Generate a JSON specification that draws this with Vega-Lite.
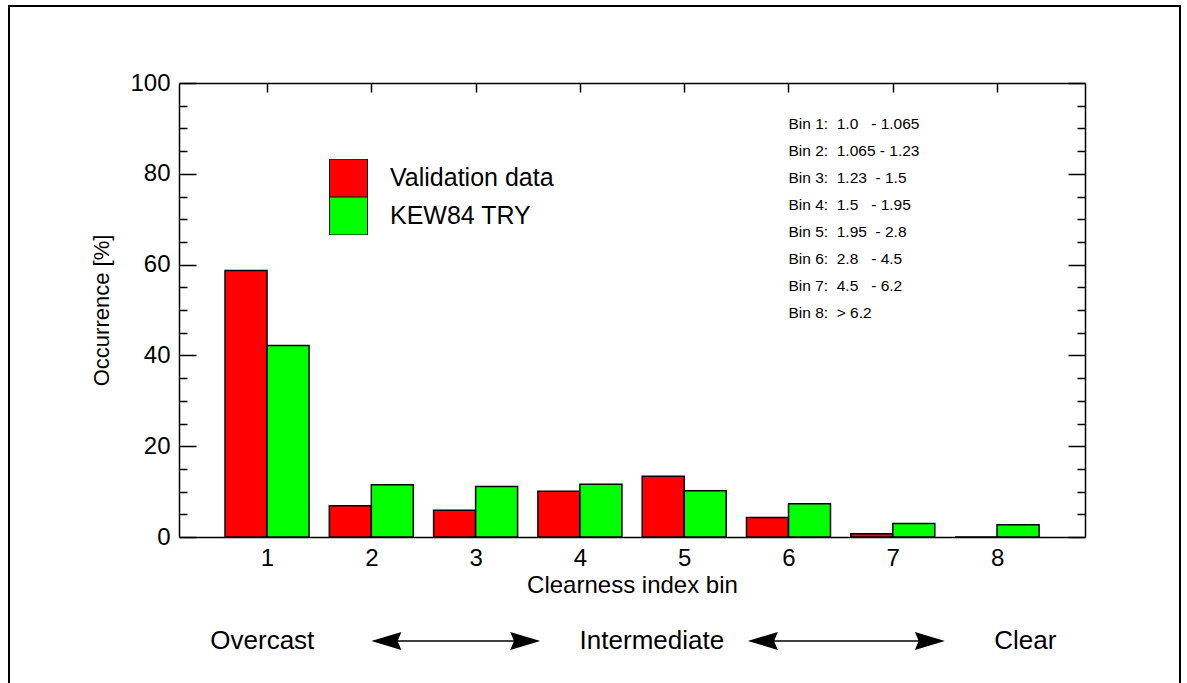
{
  "$schema": "https://vega.github.io/schema/vega-lite/v6.json",
  "width": 906,
  "height": 454,
  "autosize": {"type": "none"},
  "padding": {"left": 179, "top": 83, "right": 102, "bottom": 146},
  "background": "white",
  "config": {
    "view": {"stroke": null},
    "font": "Liberation Sans",
    "axis": {
      "grid": false,
      "domainColor": "black",
      "domainWidth": 1.5,
      "tickColor": "black",
      "tickWidth": 1.5,
      "labelColor": "black",
      "titleColor": "black",
      "labelFont": "Liberation Sans",
      "titleFont": "Liberation Sans",
      "titleFontWeight": "normal"
    },
    "legend": {
      "labelFont": "Liberation Sans"
    }
  },
  "data": {
    "values": [
      {"bin": 1, "series": "Validation data", "occ": 58.7},
      {"bin": 2, "series": "Validation data", "occ": 6.9},
      {"bin": 3, "series": "Validation data", "occ": 5.9},
      {"bin": 4, "series": "Validation data", "occ": 10.1},
      {"bin": 5, "series": "Validation data", "occ": 13.4},
      {"bin": 6, "series": "Validation data", "occ": 4.3},
      {"bin": 7, "series": "Validation data", "occ": 0.7},
      {"bin": 8, "series": "Validation data", "occ": 0.0},
      {"bin": 1, "series": "KEW84 TRY", "occ": 42.2},
      {"bin": 2, "series": "KEW84 TRY", "occ": 11.5},
      {"bin": 3, "series": "KEW84 TRY", "occ": 11.1},
      {"bin": 4, "series": "KEW84 TRY", "occ": 11.6},
      {"bin": 5, "series": "KEW84 TRY", "occ": 10.2},
      {"bin": 6, "series": "KEW84 TRY", "occ": 7.3},
      {"bin": 7, "series": "KEW84 TRY", "occ": 3.0},
      {"bin": 8, "series": "KEW84 TRY", "occ": 2.7}
    ]
  },
  "layer": [
    {
      "data": {"values": [{"item": "frame"}]},
      "mark": {"type": "rect", "filled": false, "stroke": "black", "strokeWidth": 2},
      "encoding": {
        "x": {"datum": -1.474, "type": "quantitative", "axis": null},
        "x2": {"datum": 9.754},
        "y": {"datum": 116.96, "type": "quantitative", "axis": null},
        "y2": {"datum": -33.7}
      }
    },
    {
      "transform": [{"filter": "datum.series === 'Validation data'"}],
      "mark": {"type": "bar", "orient": "vertical", "width": 42, "xOffset": -21, "stroke": "black", "strokeWidth": 1.5},
      "encoding": {
        "x": {
          "field": "bin", "type": "quantitative",
          "scale": {"domain": [0.156, 8.843], "nice": false, "zero": false, "padding": 0},
          "axis": {
            "orient": "bottom", "values": [1, 2, 3, 4, 5, 6, 7, 8], "format": "d",
            "tickSize": -9, "labelFontSize": 24, "labelPadding": 18,
            "title": "Clearness index bin", "titleFontSize": 24, "titlePadding": 3
          }
        },
        "y": {
          "field": "occ", "type": "quantitative",
          "scale": {"domain": [0, 100], "nice": false, "padding": 0},
          "axis": {
            "orient": "left",
            "values": [0, 5, 10, 15, 20, 25, 30, 35, 40, 45, 50, 55, 60, 65, 70, 75, 80, 85, 90, 95, 100],
            "tickSize": {"condition": {"test": "datum.value % 20 === 0", "value": -17}, "value": -8},
            "labelExpr": "datum.value % 20 === 0 ? datum.label : ''",
            "labelFontSize": 24, "labelPadding": 26,
            "title": "Occurrence [%]", "titleFontSize": 22, "titlePadding": 16
          }
        },
        "color": {
          "field": "series", "type": "nominal",
          "scale": {"domain": ["Validation data", "KEW84 TRY"], "range": ["#ff0000", "#00ff00"]},
          "legend": {
            "orient": "none", "legendX": 150, "legendY": 76, "title": null, "padding": 0,
            "symbolType": "square", "symbolSize": 1444, "symbolStrokeColor": "black", "symbolStrokeWidth": 1,
            "symbolOpacity": 1, "rowPadding": 0, "clipHeight": 38, "labelFontSize": 25, "labelOffset": 22,
            "labelLimit": 400, "labelColor": "black"
          }
        }
      }
    },
    {
      "transform": [{"filter": "datum.series === 'KEW84 TRY'"}],
      "mark": {"type": "bar", "orient": "vertical", "width": 42, "xOffset": 21, "stroke": "black", "strokeWidth": 1.5},
      "encoding": {
        "x": {
          "field": "bin", "type": "quantitative",
          "axis": {"orient": "top", "values": [1, 2, 3, 4, 5, 6, 7, 8], "tickSize": -9, "labels": false, "title": null}
        },
        "y": {
          "field": "occ", "type": "quantitative",
          "axis": {
            "orient": "right",
            "values": [0, 5, 10, 15, 20, 25, 30, 35, 40, 45, 50, 55, 60, 65, 70, 75, 80, 85, 90, 95, 100],
            "tickSize": {"condition": {"test": "datum.value % 20 === 0", "value": -17}, "value": -8},
            "labels": false, "title": null
          }
        },
        "color": {"field": "series", "type": "nominal"}
      }
    },
    {
      "data": {"values": [{"item": "bins"}]},
      "mark": {"type": "text", "align": "left", "baseline": "middle", "fontSize": 15.5, "lineHeight": 27, "color": "black", "font": "Liberation Sans"},
      "encoding": {
        "x": {"datum": 6.0, "type": "quantitative", "axis": null},
        "y": {"datum": 90.9, "type": "quantitative", "axis": null},
        "text": {"value": [
          "Bin 1:\u00a0 1.0 \u00a0 - 1.065",
          "Bin 2:\u00a0 1.065 - 1.23",
          "Bin 3:\u00a0 1.23 \u00a0- 1.5",
          "Bin 4:\u00a0 1.5 \u00a0 - 1.95",
          "Bin 5:\u00a0 1.95 \u00a0- 2.8",
          "Bin 6:\u00a0 2.8 \u00a0 - 4.5",
          "Bin 7:\u00a0 4.5 \u00a0 - 6.2",
          "Bin 8:\u00a0 > 6.2"
        ]}
      }
    },
    {
      "data": {"values": [{"item": "overcast"}]},
      "mark": {"type": "text", "align": "center", "baseline": "middle", "fontSize": 26, "color": "black", "font": "Liberation Sans"},
      "encoding": {
        "x": {"datum": 0.955, "type": "quantitative", "axis": null},
        "y": {"datum": -22.9, "type": "quantitative", "axis": null},
        "text": {"value": "Overcast"}
      }
    },
    {
      "data": {"values": [{"item": "intermediate"}]},
      "mark": {"type": "text", "align": "center", "baseline": "middle", "fontSize": 26, "color": "black", "font": "Liberation Sans"},
      "encoding": {
        "x": {"datum": 4.69, "type": "quantitative", "axis": null},
        "y": {"datum": -22.9, "type": "quantitative", "axis": null},
        "text": {"value": "Intermediate"}
      }
    },
    {
      "data": {"values": [{"item": "clear"}]},
      "mark": {"type": "text", "align": "center", "baseline": "middle", "fontSize": 26, "color": "black", "font": "Liberation Sans"},
      "encoding": {
        "x": {"datum": 8.27, "type": "quantitative", "axis": null},
        "y": {"datum": -22.9, "type": "quantitative", "axis": null},
        "text": {"value": "Clear"}
      }
    },
    {
      "data": {"values": [{"item": "arrow1"}]},
      "mark": {"type": "rule", "color": "black", "strokeWidth": 1.5},
      "encoding": {
        "x": {"datum": 2.1, "type": "quantitative", "axis": null},
        "x2": {"datum": 3.52},
        "y": {"datum": -22.9, "type": "quantitative", "axis": null}
      }
    },
    {
      "data": {"values": [{"item": "arrow2"}]},
      "mark": {"type": "rule", "color": "black", "strokeWidth": 1.5},
      "encoding": {
        "x": {"datum": 5.71, "type": "quantitative", "axis": null},
        "x2": {"datum": 7.4},
        "y": {"datum": -22.9, "type": "quantitative", "axis": null}
      }
    },
    {
      "data": {"values": [{"item": "head1l"}]},
      "mark": {"type": "point", "shape": "M -1 0 L 1 -0.6 L 0.75 0 L 1 0.6 Z", "filled": true, "color": "black", "opacity": 1, "size": 900},
      "encoding": {
        "x": {"datum": 2.144, "type": "quantitative", "axis": null},
        "y": {"datum": -22.9, "type": "quantitative", "axis": null}
      }
    },
    {
      "data": {"values": [{"item": "head1r"}]},
      "mark": {"type": "point", "shape": "M 1 0 L -1 -0.6 L -0.75 0 L -1 0.6 Z", "filled": true, "color": "black", "opacity": 1, "size": 900},
      "encoding": {
        "x": {"datum": 3.476, "type": "quantitative", "axis": null},
        "y": {"datum": -22.9, "type": "quantitative", "axis": null}
      }
    },
    {
      "data": {"values": [{"item": "head2l"}]},
      "mark": {"type": "point", "shape": "M -1 0 L 1 -0.6 L 0.75 0 L 1 0.6 Z", "filled": true, "color": "black", "opacity": 1, "size": 900},
      "encoding": {
        "x": {"datum": 5.754, "type": "quantitative", "axis": null},
        "y": {"datum": -22.9, "type": "quantitative", "axis": null}
      }
    },
    {
      "data": {"values": [{"item": "head2r"}]},
      "mark": {"type": "point", "shape": "M 1 0 L -1 -0.6 L -0.75 0 L -1 0.6 Z", "filled": true, "color": "black", "opacity": 1, "size": 900},
      "encoding": {
        "x": {"datum": 7.356, "type": "quantitative", "axis": null},
        "y": {"datum": -22.9, "type": "quantitative", "axis": null}
      }
    }
  ],
  "resolve": {"axis": {"x": "independent", "y": "independent"}}
}
